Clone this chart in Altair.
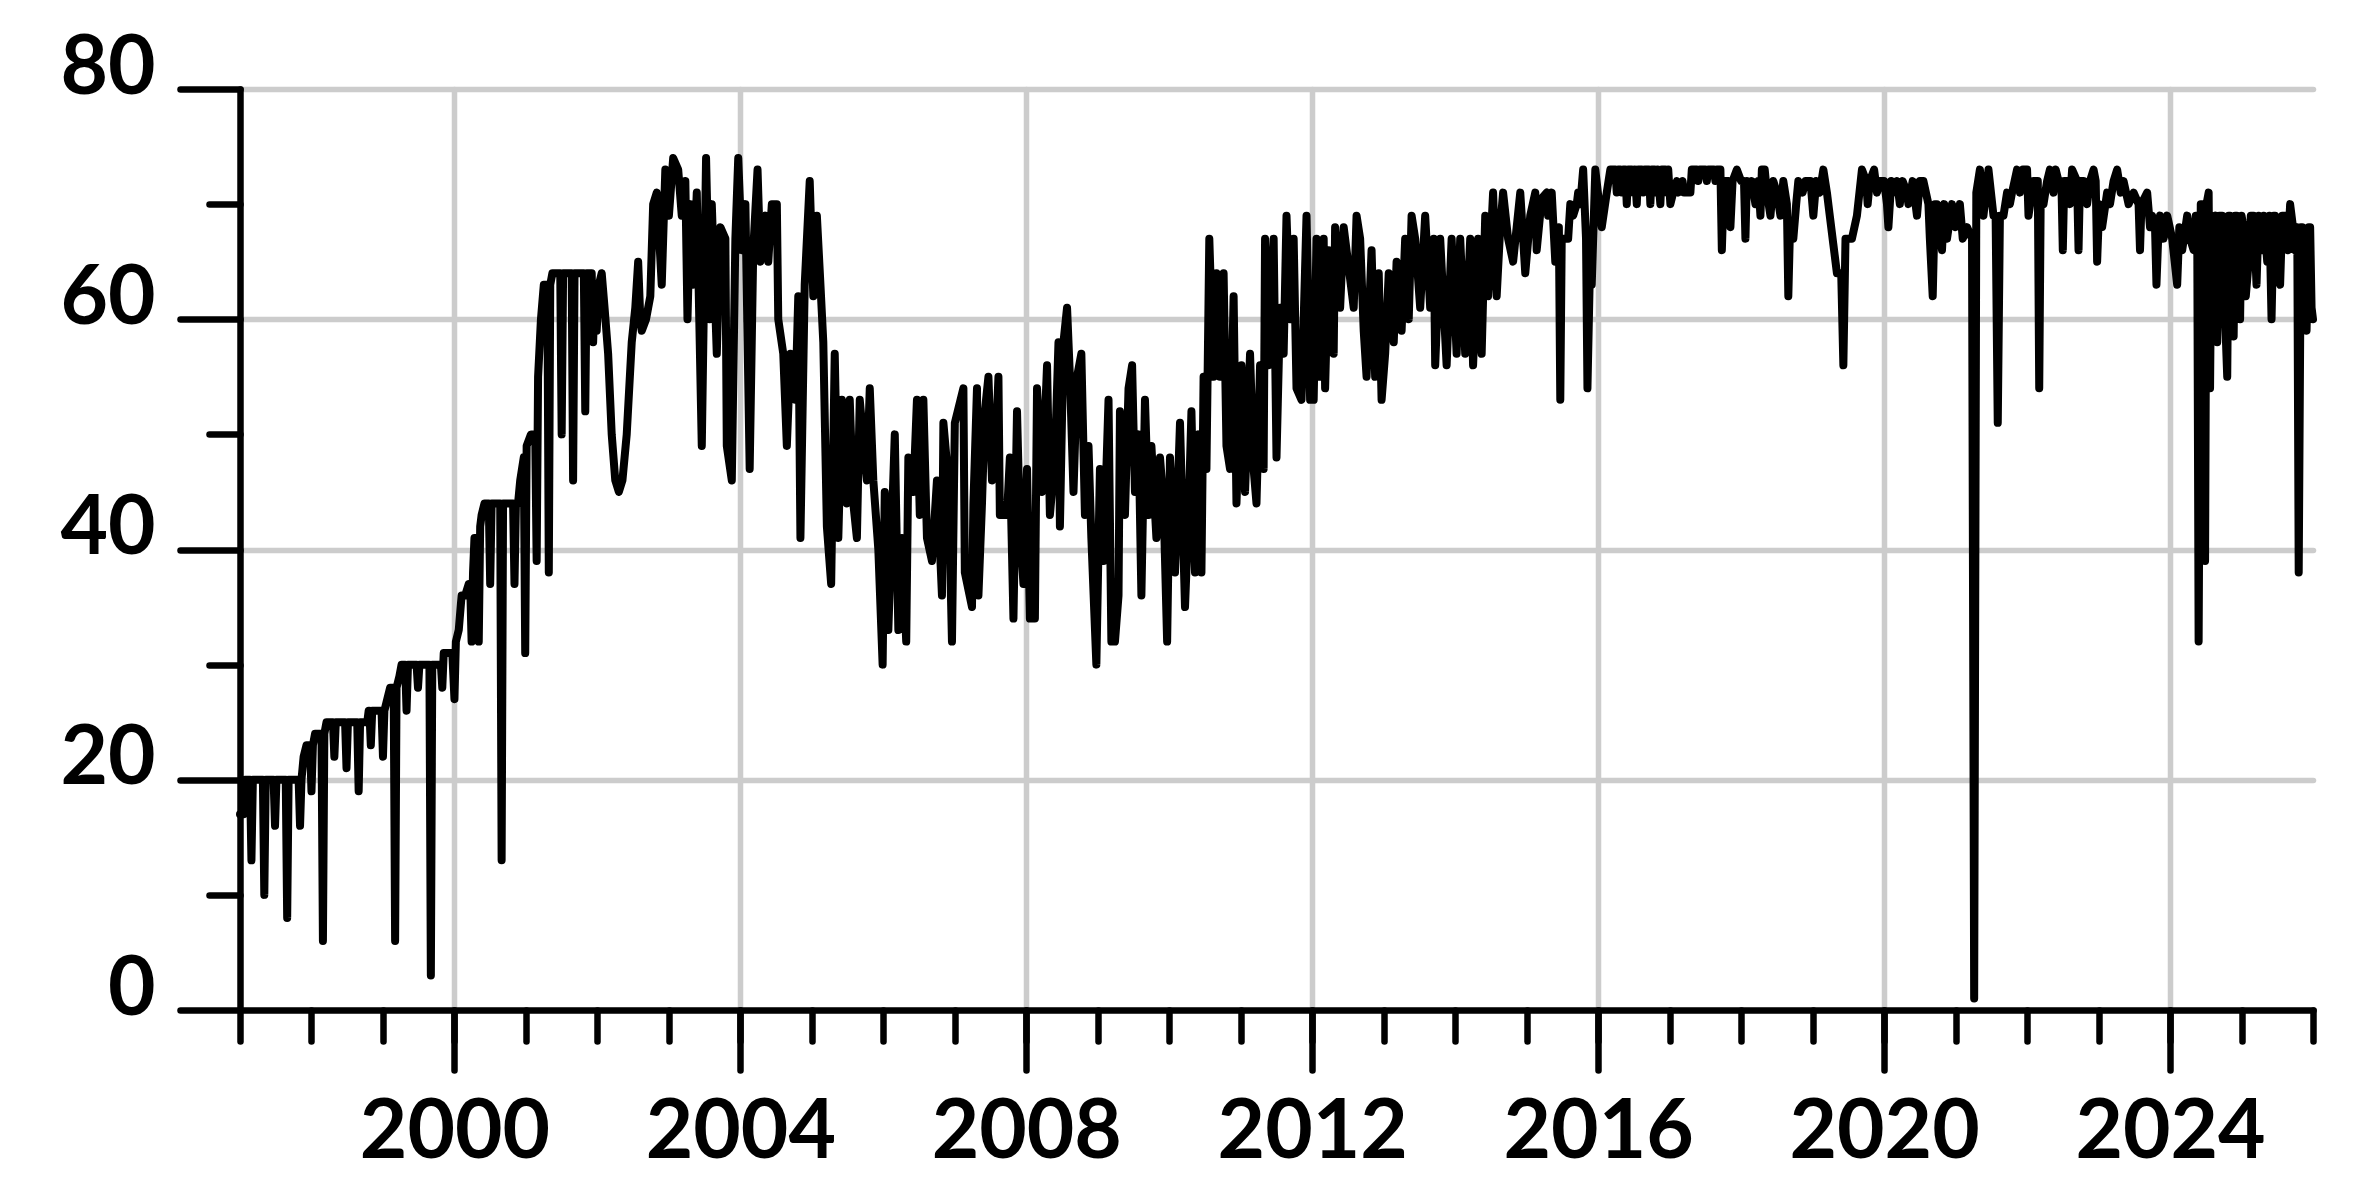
import altair as alt
import pandas as pd

# ---- data (decimal year, value) ----
seg_1997_2002 = [
    (1997.00, 17), (1997.05, 17), (1997.07, 20), (1997.14, 20), (1997.16, 13), (1997.18, 20),
    (1997.32, 20), (1997.34, 10), (1997.36, 20), (1997.47, 20), (1997.49, 16), (1997.51, 20),
    (1997.64, 20), (1997.66, 8), (1997.68, 20), (1997.82, 20), (1997.84, 16), (1997.86, 20),
    (1997.89, 22), (1997.93, 23), (1997.98, 23), (1998.00, 19), (1998.02, 23), (1998.05, 24),
    (1998.14, 24), (1998.16, 6), (1998.18, 24), (1998.21, 25), (1998.30, 25), (1998.32, 22),
    (1998.34, 25), (1998.47, 25), (1998.49, 21), (1998.51, 25), (1998.64, 25), (1998.66, 19),
    (1998.68, 25), (1998.78, 25), (1998.80, 26), (1998.81, 26), (1998.83, 23), (1998.85, 26),
    (1998.98, 26), (1999.00, 22), (1999.02, 26), (1999.06, 27), (1999.10, 28), (1999.15, 28),
    (1999.17, 6), (1999.19, 28), (1999.23, 29), (1999.26, 30), (1999.31, 30), (1999.33, 26),
    (1999.35, 30), (1999.47, 30), (1999.49, 28), (1999.51, 30), (1999.65, 30), (1999.67, 3),
    (1999.69, 30), (1999.81, 30), (1999.83, 28), (1999.85, 31), (1999.97, 31), (2000.00, 27),
    (2000.02, 32), (2000.06, 33), (2000.10, 36), (2000.15, 36), (2000.20, 37), (2000.22, 37),
    (2000.24, 32), (2000.26, 38), (2000.28, 41), (2000.32, 41), (2000.34, 32), (2000.36, 42),
    (2000.38, 43), (2000.42, 44), (2000.48, 44), (2000.50, 37), (2000.52, 44), (2000.64, 44),
    (2000.66, 13), (2000.68, 44), (2000.82, 44), (2000.84, 37), (2000.86, 44), (2000.89, 44),
    (2000.92, 46), (2000.97, 48), (2000.99, 31), (2001.01, 49), (2001.07, 50), (2001.13, 50),
    (2001.15, 39), (2001.17, 55), (2001.21, 60), (2001.25, 63), (2001.30, 63), (2001.32, 38),
    (2001.34, 63), (2001.37, 64), (2001.48, 64), (2001.50, 50), (2001.52, 64), (2001.64, 64),
    (2001.66, 46), (2001.68, 64), (2001.81, 64), (2001.83, 52), (2001.85, 64), (2001.92, 64),
    (2001.94, 58), (2001.96, 62), (2001.99, 59), (2002.02, 63), (2002.06, 64), (2002.10, 61),
    (2002.15, 57), (2002.20, 50), (2002.25, 46), (2002.30, 45), (2002.35, 46), (2002.41, 50),
    (2002.48, 58), (2002.53, 61), (2002.57, 65), (2002.60, 60), (2002.62, 59), (2002.68, 60),
    (2002.74, 62),
]

seg_2002_2008 = [
    (2002.78, 70), (2002.83, 71), (2002.90, 63), (2002.95, 73), (2003.00, 69), (2003.06, 74),
    (2003.13, 73), (2003.18, 69), (2003.23, 72), (2003.26, 60), (2003.30, 70), (2003.34, 63),
    (2003.39, 71), (2003.46, 49), (2003.52, 74), (2003.57, 60), (2003.60, 70), (2003.67, 57),
    (2003.72, 68), (2003.79, 67), (2003.81, 49), (2003.88, 46), (2003.93, 67), (2003.97, 74),
    (2004.02, 66), (2004.07, 70), (2004.13, 47), (2004.18, 66), (2004.24, 73), (2004.28, 65),
    (2004.35, 69), (2004.39, 65), (2004.44, 70), (2004.51, 70), (2004.53, 60), (2004.60, 57),
    (2004.65, 49), (2004.70, 57), (2004.77, 53), (2004.81, 62), (2004.84, 41), (2004.90, 63),
    (2004.97, 72), (2005.02, 62), (2005.07, 69), (2005.12, 63), (2005.16, 58), (2005.21, 42),
    (2005.27, 37), (2005.32, 57), (2005.37, 41), (2005.42, 53), (2005.49, 44), (2005.53, 53),
    (2005.58, 44), (2005.63, 41), (2005.67, 53), (2005.77, 46), (2005.81, 54), (2005.86, 46),
    (2005.93, 40), (2005.99, 30), (2006.02, 45), (2006.07, 33), (2006.16, 50), (2006.21, 33),
    (2006.26, 41), (2006.32, 32), (2006.35, 48), (2006.42, 45), (2006.47, 53), (2006.51, 43),
    (2006.56, 53), (2006.61, 41), (2006.68, 39), (2006.75, 46), (2006.82, 36), (2006.84, 51),
    (2006.91, 46), (2006.96, 32), (2007.00, 51), (2007.12, 54), (2007.14, 38), (2007.24, 35),
    (2007.26, 44), (2007.31, 54), (2007.33, 36), (2007.38, 44), (2007.42, 52), (2007.47, 55),
    (2007.52, 46), (2007.56, 47), (2007.61, 55), (2007.63, 43), (2007.73, 43), (2007.77, 48),
    (2007.82, 34), (2007.87, 52), (2007.91, 42), (2007.96, 37), (2008.01, 47), (2008.05, 34),
    (2008.12, 34), (2008.15, 54), (2008.22, 45), (2008.29, 56), (2008.33, 43), (2008.40, 48),
    (2008.45, 58), (2008.47, 42),
]

seg_2008_2014 = [
    (2008.52, 58), (2008.57, 61), (2008.61, 55), (2008.66, 45), (2008.71, 55), (2008.77, 57),
    (2008.82, 43), (2008.87, 49), (2008.91, 41), (2008.98, 30), (2009.03, 47), (2009.08, 39),
    (2009.15, 53), (2009.19, 32), (2009.24, 32), (2009.29, 36), (2009.31, 52), (2009.38, 43),
    (2009.43, 54), (2009.48, 56), (2009.52, 45), (2009.57, 50), (2009.61, 36), (2009.66, 53),
    (2009.71, 43), (2009.75, 49), (2009.82, 41), (2009.87, 48), (2009.92, 44), (2009.97, 32),
    (2010.01, 48), (2010.08, 38), (2010.15, 51), (2010.22, 35), (2010.27, 43), (2010.31, 52),
    (2010.36, 38), (2010.41, 50), (2010.45, 38), (2010.48, 55), (2010.52, 47), (2010.56, 67),
    (2010.62, 55), (2010.66, 64), (2010.71, 55), (2010.76, 64), (2010.80, 49), (2010.85, 47),
    (2010.90, 62), (2010.94, 44), (2011.01, 56), (2011.06, 45), (2011.13, 57), (2011.18, 47),
    (2011.22, 44), (2011.27, 56), (2011.32, 47), (2011.34, 67), (2011.39, 56), (2011.46, 67),
    (2011.50, 48), (2011.55, 61), (2011.60, 57), (2011.64, 69), (2011.69, 60), (2011.74, 67),
    (2011.78, 54), (2011.85, 53), (2011.92, 69), (2011.97, 53), (2012.02, 53), (2012.06, 67),
    (2012.11, 55), (2012.16, 67), (2012.18, 54), (2012.23, 66), (2012.30, 57), (2012.32, 68),
    (2012.39, 61), (2012.44, 68), (2012.58, 61), (2012.62, 69), (2012.67, 67), (2012.72, 59),
    (2012.76, 55), (2012.83, 66), (2012.88, 55), (2012.93, 64), (2012.97, 53), (2013.02, 57),
    (2013.07, 64), (2013.14, 58), (2013.18, 65), (2013.25, 59), (2013.30, 67), (2013.35, 60),
    (2013.39, 69), (2013.44, 67), (2013.51, 61), (2013.58, 69), (2013.65, 61), (2013.70, 67),
    (2013.72, 56), (2013.79, 67), (2013.88, 56), (2013.95, 67), (2014.02, 57), (2014.07, 67),
    (2014.14, 57), (2014.21, 67),
]

seg_2014_2020 = [
    (2014.25, 56), (2014.32, 67), (2014.37, 57), (2014.42, 69), (2014.46, 62), (2014.53, 71),
    (2014.58, 62), (2014.63, 68), (2014.67, 71), (2014.74, 67), (2014.81, 65), (2014.91, 71),
    (2014.98, 64), (2015.05, 69), (2015.12, 71), (2015.14, 66), (2015.21, 70.5), (2015.28, 71),
    (2015.30, 69), (2015.35, 71), (2015.40, 65), (2015.45, 68), (2015.47, 53), (2015.49, 67),
    (2015.58, 67), (2015.61, 70), (2015.65, 69), (2015.70, 70), (2015.72, 71), (2015.75, 70),
    (2015.79, 73), (2015.83, 67), (2015.85, 54), (2015.88, 63), (2015.91, 63), (2015.96, 73),
    (2016.05, 68), (2016.12, 71), (2016.17, 73), (2016.24, 73), (2016.26, 71), (2016.28, 73),
    (2016.31, 73), (2016.33, 71), (2016.35, 73), (2016.38, 73), (2016.40, 70), (2016.42, 73),
    (2016.47, 73), (2016.49, 71), (2016.51, 73), (2016.54, 70), (2016.56, 73), (2016.61, 73),
    (2016.63, 71), (2016.65, 73), (2016.71, 73), (2016.73, 70), (2016.75, 73), (2016.79, 73),
    (2016.81, 71), (2016.83, 73), (2016.87, 70), (2016.89, 73), (2016.94, 73), (2016.96, 71),
    (2016.98, 73), (2017.01, 70), (2017.05, 71), (2017.10, 72), (2017.12, 71), (2017.18, 72),
    (2017.20, 71), (2017.29, 71), (2017.31, 73), (2017.38, 73), (2017.40, 72), (2017.42, 73),
    (2017.50, 73), (2017.52, 72), (2017.54, 73), (2017.62, 73), (2017.64, 72), (2017.66, 73),
    (2017.71, 73), (2017.73, 66), (2017.76, 72), (2017.82, 72), (2017.85, 68), (2017.88, 72),
    (2017.94, 73), (2018.00, 72), (2018.04, 72), (2018.06, 67), (2018.08, 72), (2018.12, 71),
    (2018.15, 72), (2018.20, 70), (2018.24, 72), (2018.27, 69), (2018.29, 73), (2018.33, 73),
    (2018.36, 71), (2018.41, 69), (2018.45, 72), (2018.50, 71), (2018.55, 69), (2018.59, 72),
    (2018.64, 70), (2018.66, 62), (2018.68, 67), (2018.73, 67), (2018.77, 70), (2018.80, 72),
    (2018.86, 71), (2018.90, 72), (2018.97, 72), (2019.01, 69), (2019.05, 72), (2019.10, 71),
    (2019.15, 73), (2019.20, 71), (2019.24, 69), (2019.29, 66.5), (2019.34, 64), (2019.40, 64),
    (2019.43, 56), (2019.46, 67), (2019.55, 67), (2019.62, 69), (2019.69, 73), (2019.75, 72),
    (2019.77, 70), (2019.80, 72), (2019.86, 73), (2019.90, 71),
]

seg_2020_2026 = [
    (2019.94, 72), (2020.00, 72), (2020.04, 70), (2020.06, 68), (2020.10, 72), (2020.13, 71),
    (2020.18, 72), (2020.22, 70), (2020.26, 72), (2020.32, 71), (2020.34, 70), (2020.40, 72),
    (2020.46, 69), (2020.50, 72), (2020.55, 72), (2020.62, 70), (2020.64, 67), (2020.68, 62),
    (2020.71, 70), (2020.74, 70), (2020.81, 66), (2020.84, 70), (2020.88, 67), (2020.95, 70),
    (2021.00, 68), (2021.06, 70), (2021.10, 67), (2021.16, 68), (2021.23, 67), (2021.26, 1),
    (2021.29, 71), (2021.34, 73), (2021.39, 69), (2021.46, 73), (2021.53, 69), (2021.56, 69),
    (2021.59, 51), (2021.62, 69), (2021.67, 69), (2021.72, 71), (2021.76, 70), (2021.79, 71),
    (2021.86, 73), (2021.90, 71), (2021.94, 73), (2022.00, 73), (2022.02, 69), (2022.09, 72),
    (2022.15, 72), (2022.17, 54), (2022.19, 70), (2022.23, 70), (2022.28, 72), (2022.32, 73),
    (2022.37, 71), (2022.40, 73), (2022.44, 72), (2022.48, 72), (2022.50, 66), (2022.52, 72),
    (2022.56, 72), (2022.60, 70), (2022.63, 73), (2022.70, 72), (2022.72, 66), (2022.74, 72),
    (2022.79, 72), (2022.84, 70), (2022.88, 72), (2022.93, 73), (2022.96, 72), (2022.98, 65),
    (2023.01, 70), (2023.05, 68), (2023.12, 71), (2023.16, 70), (2023.21, 72), (2023.26, 73),
    (2023.31, 71), (2023.35, 72), (2023.42, 70), (2023.49, 71), (2023.56, 70), (2023.58, 66),
    (2023.60, 70), (2023.68, 71), (2023.72, 68), (2023.75, 69), (2023.79, 68), (2023.81, 63),
    (2023.84, 68), (2023.86, 69), (2023.91, 67), (2023.96, 69), (2024.03, 67), (2024.10, 63),
    (2024.13, 68), (2024.17, 66), (2024.24, 69), (2024.28, 67), (2024.33, 66), (2024.36, 69),
    (2024.38, 69), (2024.40, 32), (2024.43, 70), (2024.45, 70), (2024.47, 62), (2024.49, 39),
    (2024.51, 70), (2024.54, 71), (2024.56, 54), (2024.58, 69), (2024.61, 67), (2024.64, 69),
    (2024.66, 58), (2024.69, 69), (2024.73, 69), (2024.76, 62), (2024.80, 55), (2024.82, 69),
    (2024.84, 69), (2024.87, 60), (2024.89, 58.5), (2024.91, 69), (2024.935, 69), (2024.96, 64),
    (2024.98, 60), (2025.00, 69), (2025.03, 68), (2025.06, 62), (2025.10, 65), (2025.13, 69),
    (2025.17, 69), (2025.21, 63), (2025.24, 69), (2025.28, 66), (2025.31, 69), (2025.36, 65),
    (2025.39, 69), (2025.42, 60), (2025.45, 69), (2025.47, 69), (2025.50, 64), (2025.54, 63),
    (2025.57, 69), (2025.61, 69), (2025.65, 66), (2025.68, 70), (2025.72, 68), (2025.75, 66),
    (2025.78, 68), (2025.80, 38), (2025.83, 68), (2025.85, 68), (2025.88, 62), (2025.91, 59),
    (2025.94, 68), (2025.96, 68), (2025.98, 61), (2026.00, 60),
]

major_years = [2000, 2004, 2008, 2012, 2016, 2020, 2024]
minor_years = list(range(1997, 2027))
major_values = [0, 20, 40, 60, 80]
minor_values = [10, 30, 50, 70]

points = seg_1997_2002 + seg_2002_2008 + seg_2008_2014 + seg_2014_2020 + seg_2020_2026
df = pd.DataFrame(points, columns=["year", "value"])

FONT = "Lato"
LABEL_SIZE = 82
AXIS_W = 6.5
GRID = "#cccccc"

x_scale = alt.Scale(domain=[1997, 2026], nice=False, zero=False)
y_scale = alt.Scale(domain=[0, 80], nice=False, zero=True)

main = alt.Chart(df).mark_line(
    color="black", strokeWidth=8, strokeJoin="round", strokeCap="round"
).encode(
    x=alt.X(
        "year:Q", scale=x_scale, title=None,
        axis=alt.Axis(
            orient="bottom", values=major_years, format="d",
            tickSize=60, tickWidth=AXIS_W, tickColor="black", tickCap="round",
            domain=True, domainColor="black", domainWidth=AXIS_W, domainCap="round",
            grid=True, gridColor=GRID, gridWidth=5.5, gridCap="round",
            labelFont=FONT, labelFontSize=LABEL_SIZE, labelFontWeight="bold",
            labelColor="black", labelBaseline="alphabetic", labelAlign="center",
            labelPadding=87, labelFlush=False, labelOverlap=False, labelLimit=1000,
        ),
    ),
    y=alt.Y(
        "value:Q", scale=y_scale, title=None,
        axis=alt.Axis(
            orient="left", values=major_values, format="d",
            tickSize=60, tickWidth=AXIS_W, tickColor="black", tickCap="round",
            domain=True, domainColor="black", domainWidth=AXIS_W, domainCap="round",
            grid=True, gridColor=GRID, gridWidth=5.5, gridCap="round",
            labelFont=FONT, labelFontSize=LABEL_SIZE, labelFontWeight="bold",
            labelColor="black", labelBaseline="alphabetic", labelAlign="right",
            labelPadding=25, labelOffset=4, labelFlush=False, labelOverlap=False,
            labelLimit=1000,
        ),
    ),
)

minor = alt.Chart(df).mark_line(opacity=0).encode(
    x=alt.X(
        "year:Q", scale=x_scale, title=None,
        axis=alt.Axis(
            orient="bottom", values=minor_years, tickSize=31, tickWidth=AXIS_W,
            tickColor="black", tickCap="round", domain=False, grid=False, labels=False,
        ),
    ),
    y=alt.Y(
        "value:Q", scale=y_scale, title=None,
        axis=alt.Axis(
            orient="left", values=minor_values, tickSize=31, tickWidth=AXIS_W,
            tickColor="black", tickCap="round", domain=False, grid=False, labels=False,
        ),
    ),
)

chart = (
    alt.layer(minor, main)
    .resolve_axis(x="independent", y="independent")
    .properties(
        width=2073,
        height=921,
        autosize=alt.AutoSizeParams(type="none"),
        padding={"left": 232, "top": 81, "right": 30, "bottom": 176},
        background="white",
    )
    .configure_view(stroke=None)
)

chart.save("out.html", embed_options={"renderer": "svg", "actions": False})
